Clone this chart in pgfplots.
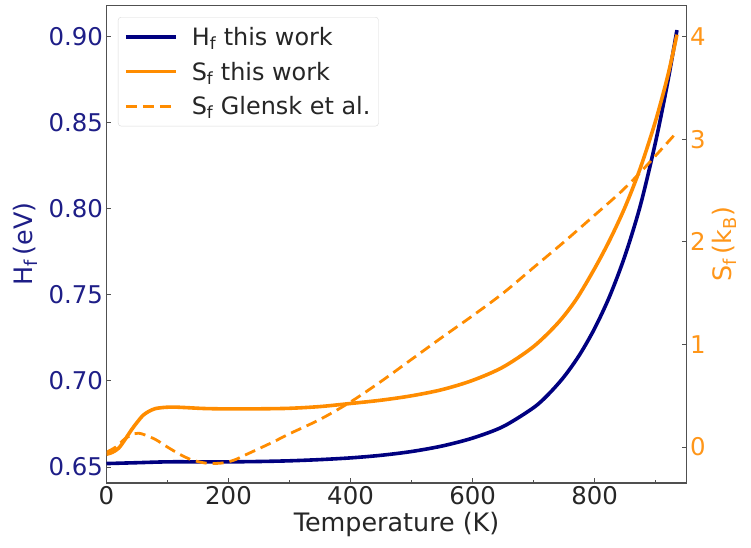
\documentclass[border=0pt]{standalone}
\usepackage{fontspec}
\setmainfont{DejaVu Sans}
\usepackage{pgfplots}
\pgfplotsset{compat=1.18}
\definecolor{hnavy}{RGB}{0,0,128}
\definecolor{hlab}{RGB}{30,30,135}
\definecolor{sorange}{RGB}{255,140,0}
\definecolor{slab}{RGB}{255,150,25}
\definecolor{spine}{RGB}{80,80,80}
\pgfplotsset{
  common/.style={
    at={(0,0)}, anchor=south west,
    scale only axis, width=580.2bp, height=477.7bp,
    xmin=0, xmax=951,
    axis line style={spine, line width=1.1bp},
    tick style={spine, line width=1bp},
    major tick length=5bp, minor tick length=3bp,
    /pgf/number format/assume math mode=true,
    tick label style={font=\fontsize{24.5}{28}\selectfont},
    label style={font=\fontsize{25.5}{30}\selectfont},
  }
}
\begin{document}
\begin{tikzpicture}
\path[use as bounding box] (-106.5bp,-65bp) rectangle (644.5bp,483bp);
\begin{axis}[common,
  ymin=0.6407, ymax=0.9184,
  axis y line*=left,
  xtick={0,200,400,600,800}, minor xtick={100,300,500,700,900},
  xtick pos=lower,
  ytick={0.65,0.7,0.75,0.8,0.85,0.9},
  yticklabel style={color=hlab, /pgf/number format/.cd, fixed, fixed zerofill, precision=2},
  xticklabel style={color=black!85},
  xlabel={Temperature (K)},
  ylabel={H\textsubscript{f}\,(eV)},
  ylabel style={color=hlab, yshift=4bp},
  xlabel style={color=black!85},
]
\addplot[hnavy, line width=3.6bp, smooth] coordinates {
(0,0.6520) (50,0.6525) (100,0.6530) (150,0.6530) (200,0.6530) (250,0.6532)
(300,0.6536) (350,0.6543) (400,0.6553) (450,0.6568) (500,0.6590) (550,0.6622)
(600,0.6668) (650,0.6735) (700,0.6845) (725,0.6925) (750,0.7025) (775,0.7150)
(800,0.7305) (825,0.7495) (850,0.7730) (875,0.8020) (900,0.8390) (920,0.8740)
(935,0.9040)
};
\end{axis}
\begin{axis}[common,
  ymin=-0.35, ymax=4.306,
  axis y line*=right, axis x line=none,
  ytick={0,1,2,3,4},
  yticklabel style={color=slab},
  ylabel={S\textsubscript{f}\,(k\textsubscript{B})},
  ylabel style={color=slab},
  legend style={at={(0.0198,0.9755)}, anchor=north west,
    draw=black!15, rounded corners=3bp, fill=white,
    font=\fontsize{24}{28}\selectfont, text=black!85,
    row sep=11bp, inner xsep=6bp, inner ysep=8bp,
    /tikz/every odd column/.append style={column sep=12bp}},
  legend cell align=left,
  legend image code/.code={\draw[#1] (0bp,0bp) -- (50bp,0bp);},
]
\addlegendimage{hnavy, line width=3.6bp}
\addlegendentry{H\textsubscript{f} this work}
\addplot[sorange, line width=3.6bp, smooth] coordinates {
(0,-0.07) (10,-0.05) (20,-0.01) (30,0.07) (40,0.16) (50,0.24) (60,0.31)
(70,0.35) (80,0.375) (95,0.387) (110,0.39) (130,0.385) (160,0.376) (200,0.372)
(250,0.373) (300,0.378) (350,0.395) (400,0.425) (450,0.457) (500,0.50)
(550,0.56) (600,0.65) (650,0.78) (700,0.98) (740,1.21) (770,1.44) (800,1.74)
(825,2.02) (850,2.34) (875,2.72) (900,3.18) (920,3.62) (935,4.02)
};
\addlegendentry{S\textsubscript{f} this work}
\addplot[sorange, line width=2.8bp, dash pattern=on 11bp off 6bp, smooth] coordinates {
(0,-0.05) (15,0.0) (30,0.08) (45,0.13) (52,0.135) (60,0.125) (80,0.075)
(100,0.0) (120,-0.07) (140,-0.125) (165,-0.158) (190,-0.155) (210,-0.125)
(230,-0.07) (250,-0.015) (275,0.055) (300,0.13) (350,0.27) (400,0.44)
(450,0.64) (500,0.855) (550,1.07) (600,1.28) (650,1.50) (700,1.75) (750,2.00)
(800,2.26) (840,2.47) (869,2.64) (900,2.84) (935,3.07)
};
\addlegendentry{S\textsubscript{f} Glensk et al.}
\end{axis}
\end{tikzpicture}
\end{document}
